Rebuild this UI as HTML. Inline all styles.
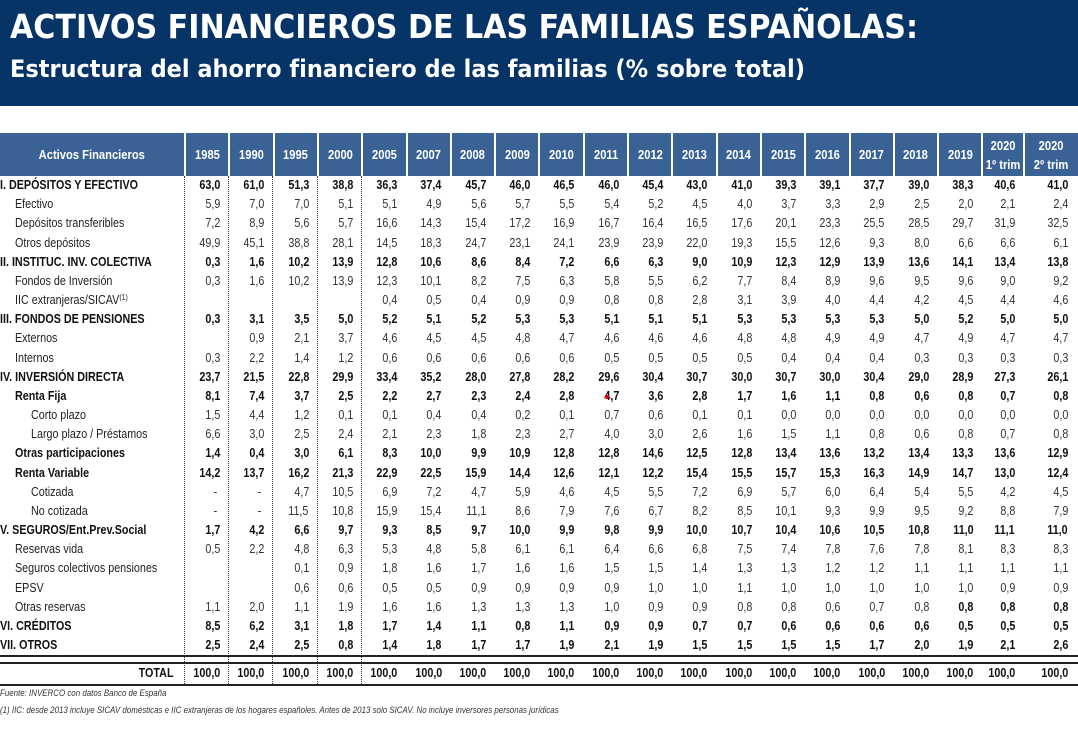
<!DOCTYPE html>
<html lang="es">
<head>
<meta charset="utf-8">
<style>
  html,body{margin:0;padding:0;background:#fff;}
  body{width:1078px;height:741px;position:relative;overflow:hidden;font-family:"Liberation Sans",sans-serif;}
  #banner{position:absolute;left:0;top:0;width:1078px;height:106px;background:#063466;}
  #thead{position:absolute;left:0;top:133px;width:1078px;height:43px;background:#3a6294;}
  .hc{position:absolute;top:0;height:43px;display:flex;align-items:center;justify-content:center;text-align:center;color:#fff;font-weight:bold;font-size:13px;line-height:19px;border-left:2px solid #fff;box-sizing:border-box;white-space:nowrap;}
  .hc span{display:inline-block;transform:scaleX(0.86);}
  .row{position:absolute;left:0;width:1078px;height:19px;}
  .lbl{position:absolute;top:0;height:19px;line-height:19px;font-size:12.5px;color:#222;white-space:nowrap;}
  .lbl span{display:inline-block;transform:scaleX(0.86);transform-origin:left center;}
  .lbl sup{font-size:8px;line-height:0;vertical-align:4px;}
  .val{position:absolute;top:0;height:19px;line-height:19px;font-size:12.5px;color:#333;text-align:right;box-sizing:border-box;padding-right:8px;white-space:nowrap;}
  .val span{display:inline-block;transform:scaleX(0.86);transform-origin:right center;}
  .b{font-weight:bold;color:#111;}
  .vline{position:absolute;top:176px;height:508px;border-left:1px dotted #333;}
  .hline{position:absolute;left:0;width:1078px;border-top:2px solid #222;}
  .foot{position:absolute;left:0;font-size:9px;font-style:italic;color:#333;white-space:nowrap;transform:scaleX(0.88);transform-origin:left center;}
</style>
</head>
<body>
<div id="banner">
  <svg width="1078" height="106">
    <text x="10" y="38" textLength="908" lengthAdjust="spacingAndGlyphs" font-family="DejaVu Sans, sans-serif" font-weight="bold" font-size="33" fill="#fff">ACTIVOS FINANCIEROS DE LAS FAMILIAS ESPAÑOLAS:</text>
    <text x="10" y="77" textLength="795" lengthAdjust="spacingAndGlyphs" font-family="DejaVu Sans, sans-serif" font-weight="bold" font-size="24" fill="#fff">Estructura del ahorro financiero de las familias (% sobre total)</text>
  </svg>
</div>
<div id="thead"></div>
<div id="tbody"></div>
<div class="foot" style="top:688px;">Fuente: INVERCO con datos Banco de España</div>
<div class="foot" style="top:705px;">(1) IIC: desde 2013 incluye SICAV domésticas e IIC extranjeras de los hogares españoles. Antes de 2013 solo SICAV. No incluye inversores personas jurídicas</div>
<script>
const years = ["1985","1990","1995","2000","2005","2007","2008","2009","2010","2011","2012","2013","2014","2015","2016","2017","2018","2019","2020<br>1º trim","2020<br>2º trim"];
const labels = ["I. DEPÓSITOS Y EFECTIVO","Efectivo","Depósitos transferibles","Otros depósitos","II. INSTITUC. INV. COLECTIVA","Fondos de Inversión","IIC extranjeras/SICAV<sup>(1)</sup>","III. FONDOS DE PENSIONES","Externos","Internos","IV. INVERSIÓN DIRECTA","Renta Fija","Corto plazo","Largo plazo / Préstamos","Otras participaciones","Renta Variable","Cotizada","No cotizada","V. SEGUROS/Ent.Prev.Social","Reservas vida","Seguros colectivos pensiones","EPSV","Otras reservas","VI. CRÉDITOS","VII. OTROS"];
const levels = [0,1,1,1,0,1,1,0,1,1,0,1,2,2,1,1,2,2,0,1,1,1,1,0,0];
const boldRows = [1,0,0,0,1,0,0,1,0,0,1,1,0,0,1,1,0,0,1,0,0,0,0,1,1];
const values = [
"63,0 61,0 51,3 38,8 36,3 37,4 45,7 46,0 46,5 46,0 45,4 43,0 41,0 39,3 39,1 37,7 39,0 38,3 40,6 41,0",
"5,9 7,0 7,0 5,1 5,1 4,9 5,6 5,7 5,5 5,4 5,2 4,5 4,0 3,7 3,3 2,9 2,5 2,0 2,1 2,4",
"7,2 8,9 5,6 5,7 16,6 14,3 15,4 17,2 16,9 16,7 16,4 16,5 17,6 20,1 23,3 25,5 28,5 29,7 31,9 32,5",
"49,9 45,1 38,8 28,1 14,5 18,3 24,7 23,1 24,1 23,9 23,9 22,0 19,3 15,5 12,6 9,3 8,0 6,6 6,6 6,1",
"0,3 1,6 10,2 13,9 12,8 10,6 8,6 8,4 7,2 6,6 6,3 9,0 10,9 12,3 12,9 13,9 13,6 14,1 13,4 13,8",
"0,3 1,6 10,2 13,9 12,3 10,1 8,2 7,5 6,3 5,8 5,5 6,2 7,7 8,4 8,9 9,6 9,5 9,6 9,0 9,2",
"_ _ _ _ 0,4 0,5 0,4 0,9 0,9 0,8 0,8 2,8 3,1 3,9 4,0 4,4 4,2 4,5 4,4 4,6",
"0,3 3,1 3,5 5,0 5,2 5,1 5,2 5,3 5,3 5,1 5,1 5,1 5,3 5,3 5,3 5,3 5,0 5,2 5,0 5,0",
"_ 0,9 2,1 3,7 4,6 4,5 4,5 4,8 4,7 4,6 4,6 4,6 4,8 4,8 4,9 4,9 4,7 4,9 4,7 4,7",
"0,3 2,2 1,4 1,2 0,6 0,6 0,6 0,6 0,6 0,5 0,5 0,5 0,5 0,4 0,4 0,4 0,3 0,3 0,3 0,3",
"23,7 21,5 22,8 29,9 33,4 35,2 28,0 27,8 28,2 29,6 30,4 30,7 30,0 30,7 30,0 30,4 29,0 28,9 27,3 26,1",
"8,1 7,4 3,7 2,5 2,2 2,7 2,3 2,4 2,8 4,7 3,6 2,8 1,7 1,6 1,1 0,8 0,6 0,8 0,7 0,8",
"1,5 4,4 1,2 0,1 0,1 0,4 0,4 0,2 0,1 0,7 0,6 0,1 0,1 0,0 0,0 0,0 0,0 0,0 0,0 0,0",
"6,6 3,0 2,5 2,4 2,1 2,3 1,8 2,3 2,7 4,0 3,0 2,6 1,6 1,5 1,1 0,8 0,6 0,8 0,7 0,8",
"1,4 0,4 3,0 6,1 8,3 10,0 9,9 10,9 12,8 12,8 14,6 12,5 12,8 13,4 13,6 13,2 13,4 13,3 13,6 12,9",
"14,2 13,7 16,2 21,3 22,9 22,5 15,9 14,4 12,6 12,1 12,2 15,4 15,5 15,7 15,3 16,3 14,9 14,7 13,0 12,4",
"- - 4,7 10,5 6,9 7,2 4,7 5,9 4,6 4,5 5,5 7,2 6,9 5,7 6,0 6,4 5,4 5,5 4,2 4,5",
"- - 11,5 10,8 15,9 15,4 11,1 8,6 7,9 7,6 6,7 8,2 8,5 10,1 9,3 9,9 9,5 9,2 8,8 7,9",
"1,7 4,2 6,6 9,7 9,3 8,5 9,7 10,0 9,9 9,8 9,9 10,0 10,7 10,4 10,6 10,5 10,8 11,0 11,1 11,0",
"0,5 2,2 4,8 6,3 5,3 4,8 5,8 6,1 6,1 6,4 6,6 6,8 7,5 7,4 7,8 7,6 7,8 8,1 8,3 8,3",
"_ _ 0,1 0,9 1,8 1,6 1,7 1,6 1,6 1,5 1,5 1,4 1,3 1,3 1,2 1,2 1,1 1,1 1,1 1,1",
"_ _ 0,6 0,6 0,5 0,5 0,9 0,9 0,9 0,9 1,0 1,0 1,1 1,0 1,0 1,0 1,0 1,0 0,9 0,9",
"1,1 2,0 1,1 1,9 1,6 1,6 1,3 1,3 1,3 1,0 0,9 0,9 0,8 0,8 0,6 0,7 0,8 *0,8 *0,8 *0,8",
"8,5 6,2 3,1 1,8 1,7 1,4 1,1 0,8 1,1 0,9 0,9 0,7 0,7 0,6 0,6 0,6 0,6 0,5 0,5 0,5",
"2,5 2,4 2,5 0,8 1,4 1,8 1,7 1,7 1,9 2,1 1,9 1,5 1,5 1,5 1,5 1,7 2,0 1,9 2,1 2,6"
];
const totals = ["100,0","100,0","100,0","100,0","100,0","100,0","100,0","100,0","100,0","100,0","100,0","100,0","100,0","100,0","100,0","100,0","100,0","100,0","100,0","100,0"];

function colLeft(i){ return i<19 ? 184 + i*44.3 : 1023; }
function colWidth(i){ return i<18 ? 44.3 : (i===18 ? 1023-colLeft(18) : 55); }
function rowTop(r){ return 176 + r*19.17; }

const thead = document.getElementById('thead');
const h0 = document.createElement('div');
h0.className='hc'; h0.style.left='0px'; h0.style.width='184px'; h0.style.borderLeft='none';
h0.innerHTML='<span>Activos Financieros</span>';


thead.appendChild(h0);
years.forEach((y,i)=>{
  const d=document.createElement('div');
  d.className='hc';
  d.style.left=colLeft(i)+'px'; d.style.width=colWidth(i)+'px';
  d.innerHTML='<span>'+y+'</span>';
  
  
  thead.appendChild(d);
});

const body=document.getElementById('tbody');
labels.forEach((lab,r)=>{
  const row=document.createElement('div');
  row.className='row'; row.style.top=rowTop(r)+'px';
  
  
  const l=document.createElement('div');
  l.className='lbl'+(boldRows[r]?' b':'');
  l.style.left=(levels[r]===0?0:(levels[r]===1?15:31))+'px';
  l.innerHTML='<span>'+lab+'</span>';
  
  
  row.appendChild(l);
  values[r].split(' ').forEach((v,i)=>{
    const c=document.createElement('div');
    let bold=boldRows[r];
    if(v.startsWith('*')){bold=1; v=v.slice(1);}
    if(v==='_') v='';
    c.className='val'+(bold?' b':'');
    c.style.left=colLeft(i)+'px'; c.style.width=colWidth(i)+'px';
    if(i===19) c.style.paddingRight='10px';
    if(v==='-') c.style.paddingRight='11px';
    const s=document.createElement('span');
    s.textContent=v;
    c.appendChild(s);
    
    
    row.appendChild(c);
  });
  body.appendChild(row);
});

[184,228,272,317,361].forEach(x=>{
  const v=document.createElement('div');
  v.className='vline'; v.style.left=x+'px';
  
  
  body.appendChild(v);
});
[655,662,684].forEach(y=>{
  const h=document.createElement('div');
  h.className='hline'; h.style.top=y+'px';
  
  
  body.appendChild(h);
});
const tr=document.createElement('div');
tr.className='row'; tr.style.top='664px';


const tl=document.createElement('div');
tl.className='val b'; tl.style.left='0px'; tl.style.width='184px'; tl.style.paddingRight='10px';
tl.innerHTML='<span>TOTAL</span>';


tr.appendChild(tl);
totals.forEach((v,i)=>{
  const c=document.createElement('div');
  c.className='val b';
  c.style.left=colLeft(i)+'px'; c.style.width=colWidth(i)+'px';
  if(i===19) c.style.paddingRight='10px';
  const s=document.createElement('span');
  s.textContent=v;
  c.appendChild(s);
  
  
  tr.appendChild(c);
});
body.appendChild(tr);
const dot=document.createElement('div');
dot.style.cssText='position:absolute;width:4px;height:4px;border-radius:2px;background:#e00;';
dot.style.left=(colLeft(9)+22)+'px'; dot.style.top=(rowTop(11)+8)+'px';


body.appendChild(dot);
</script>
</body>
</html>
